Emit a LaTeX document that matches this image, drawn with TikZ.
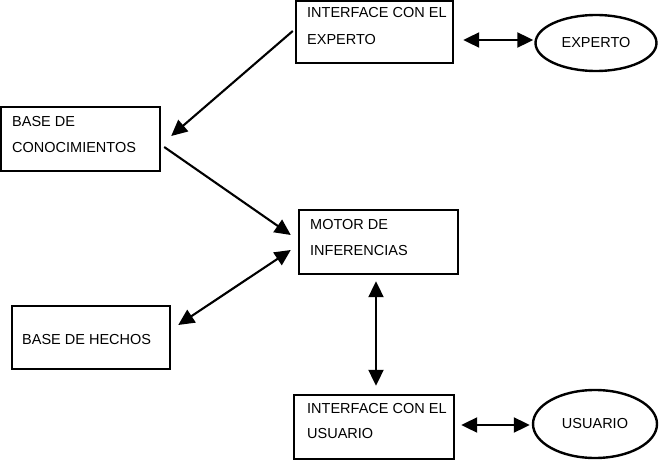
\documentclass[tikz,border=0pt]{standalone}
\usepackage{fontspec}
\setmainfont{Liberation Sans}
\usetikzlibrary{shapes.geometric,arrows.meta,calc}
\begin{document}
\begin{tikzpicture}[x=1pt,y=-1pt,
  box/.style={draw, line width=2.4pt, rectangle, inner sep=0pt},
  oval/.style={draw, line width=2.4pt, ellipse, inner sep=0pt, font=\fontsize{14.5}{16}\selectfont},
  lbl/.style={anchor=base west, inner sep=0pt, font=\fontsize{14.5}{16}\selectfont},
  conn/.style={line width=2.1pt, -{Triangle[length=16pt,width=15pt]}},
  dconn/.style={line width=2.1pt, {Triangle[length=16pt,width=15pt]}-{Triangle[length=16pt,width=15pt]}}]
\useasboundingbox (0,0) rectangle (659,460);
% boxes
\node[box, minimum width=157pt, minimum height=62pt] (ie) at (374.5,32) {};
\node[box, minimum width=159pt, minimum height=64pt] (bc) at (80.5,139) {};
\node[box, minimum width=159pt, minimum height=64pt] (mi) at (378.5,242) {};
\node[box, minimum width=158pt, minimum height=63pt] (bh) at (91,337.5) {};
\node[box, minimum width=160pt, minimum height=64pt] (iu) at (374,427) {};
% ellipses
\node[oval, minimum width=121pt, minimum height=56pt] (ex) at (596,43) {EXPERTO};
\node[oval, minimum width=124pt, minimum height=68pt] (us) at (595,424) {USUARIO};
% texts
\node[lbl] (ie1) at (307,18) {INTERFACE CON EL};
\node[lbl] (ie2) at (307,45) {EXPERTO};
\node[lbl] (bc1) at (12,126) {BASE DE};
\node[lbl] (bc2) at (12,152) {CONOCIMIENTOS};
\node[lbl] (mi1) at (310,229) {MOTOR DE};
\node[lbl] (mi2) at (310,255) {INFERENCIAS};
\node[lbl] (bh1) at (22,344) {BASE DE HECHOS};
\node[lbl] (iu1) at (307,413) {INTERFACE CON EL};
\node[lbl] (iu2) at (307,438) {USUARIO};
% connectors
\draw[conn] ($(ie.west)+(-2,-1)$) -- ($(bc.east)+(10,-3)$);
\draw[conn] ($(bc.east)+(3,8)$) -- ($(mi.west)+(-7,-7)$);
\draw[dconn] ($(bh.east)+(7,-12.5)$) -- ($(mi.west)+(-7,8)$);
\draw[dconn] ($(mi.south)+(-2.5,6)$) -- ($(iu.north)+(2,-8)$);
\draw[dconn] ($(ie.east)+(9,8)$) -- ($(ex.west)+(-1,-3)$);
\draw[dconn] ($(iu.east)+(6,-2)$) -- ($(us.west)+(-2,1)$);
\end{tikzpicture}
\end{document}
